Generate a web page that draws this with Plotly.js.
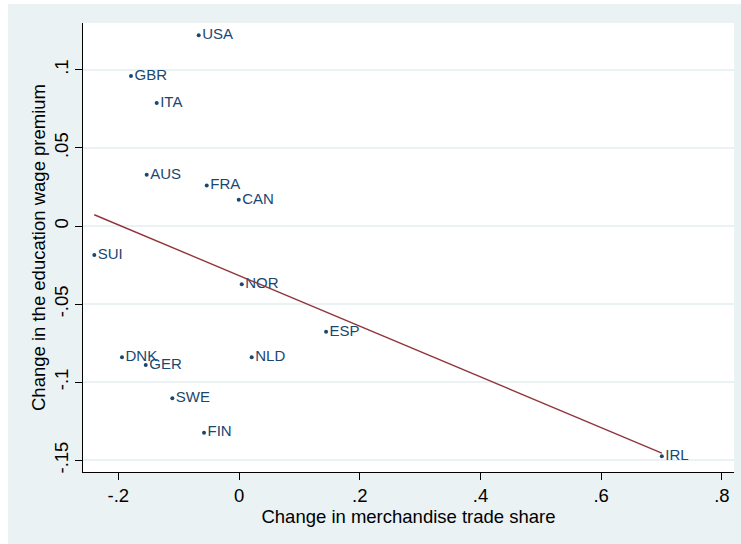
<!DOCTYPE html>
<html>
<head>
<meta charset="utf-8">
<script src="https://cdn.plot.ly/plotly-3.0.1.min.js"></script>
<style>
html,body{margin:0;padding:0;background:#ffffff;}
#chart{position:absolute;left:8px;top:4px;width:733px;height:540px;}
</style>
</head>
<body>
<div id="chart"></div>
<script>
// Data
var countries = ["USA","GBR","ITA","AUS","FRA","CAN","SUI","NOR","ESP","DNK","GER","NLD","SWE","FIN","IRL"];
var tradeShareChange = [-0.0668,-0.179,-0.1364,-0.153,-0.0535,-0.0005,-0.2398,0.0045,0.1442,-0.1939,-0.1546,0.021,-0.1105,-0.058,0.7004];
var wagePremiumChange = [0.1221,0.096,0.0787,0.0328,0.026,0.0168,-0.0186,-0.0373,-0.0677,-0.0841,-0.089,-0.0841,-0.1103,-0.1323,-0.1474];
var xTickVals = [-0.2,0,0.2,0.4,0.6,0.8];
var xTickText = ["-.2","0",".2",".4",".6",".8"];
var yTickVals = [-0.15,-0.1,-0.05,0,0.05,0.1];
var yTickText = ["-.15","-.1","-.05","0",".05",".1"];

// Linear fit (OLS) over the data range
var n = tradeShareChange.length, mx = 0, my = 0;
for (var i = 0; i < n; i++) { mx += tradeShareChange[i]; my += wagePremiumChange[i]; }
mx /= n; my /= n;
var sxy = 0, sxx = 0;
for (var i = 0; i < n; i++) {
  sxy += (tradeShareChange[i]-mx)*(wagePremiumChange[i]-my);
  sxx += (tradeShareChange[i]-mx)*(tradeShareChange[i]-mx);
}
var slope = sxy/sxx, icpt = my - slope*mx;
var xmin = Math.min.apply(null, tradeShareChange), xmax = Math.max.apply(null, tradeShareChange);
var fitX = [xmin, xmax];
var fitY = [icpt + slope*xmin, icpt + slope*xmax];

var navy = "#1a476f";
var font = "Liberation Sans, Arial, sans-serif";

var traces = [
  {
    x: tradeShareChange, y: wagePremiumChange, text: countries,
    type: "scatter", mode: "markers+text", textposition: "middle right",
    marker: {color: navy, size: 4},
    textfont: {family: font, size: 15, color: navy},
    hoverinfo: "skip", cliponaxis: false
  },
  {
    x: fitX, y: fitY, type: "scatter", mode: "lines",
    line: {color: "#90353b", width: 1.4}, hoverinfo: "skip"
  }
];

var layout = {
  width: 733, height: 540,
  margin: {l: 75, r: 7, t: 19, b: 72},
  paper_bgcolor: "#eaf2f3", plot_bgcolor: "#ffffff",
  showlegend: false,
  font: {family: font, size: 18.5, color: "#000000"},
  xaxis: {
    range: [-0.2585, 0.820], tickvals: xTickVals, ticktext: xTickText,
    showgrid: false, zeroline: false, showline: true, linecolor: "#000000", linewidth: 1,
    ticks: "outside", ticklen: 7, tickcolor: "#000000", tickwidth: 1,
    tickfont: {family: font, size: 18.5, color: "#000000"},
    title: {text: "Change in merchandise trade share", font: {family: font, size: 18.5, color: "#000000"}, standoff: 0}
  },
  yaxis: {
    range: [-0.1575, 0.130], tickvals: yTickVals, ticktext: yTickText,
    showgrid: true, gridcolor: "#eaf2f3", gridwidth: 1.6,
    zeroline: false, showline: true, linecolor: "#000000", linewidth: 1,
    ticks: "outside", ticklen: 7, tickcolor: "#000000", tickwidth: 1, tickangle: -90,
    tickfont: {family: font, size: 18.5, color: "#000000"},
    title: {text: "Change in the education wage premium", font: {family: font, size: 18.5, color: "#000000"}, standoff: 0}
  }
};

Plotly.newPlot("chart", traces, layout, {displayModeBar: false, staticPlot: true});
</script>
</body>
</html>
